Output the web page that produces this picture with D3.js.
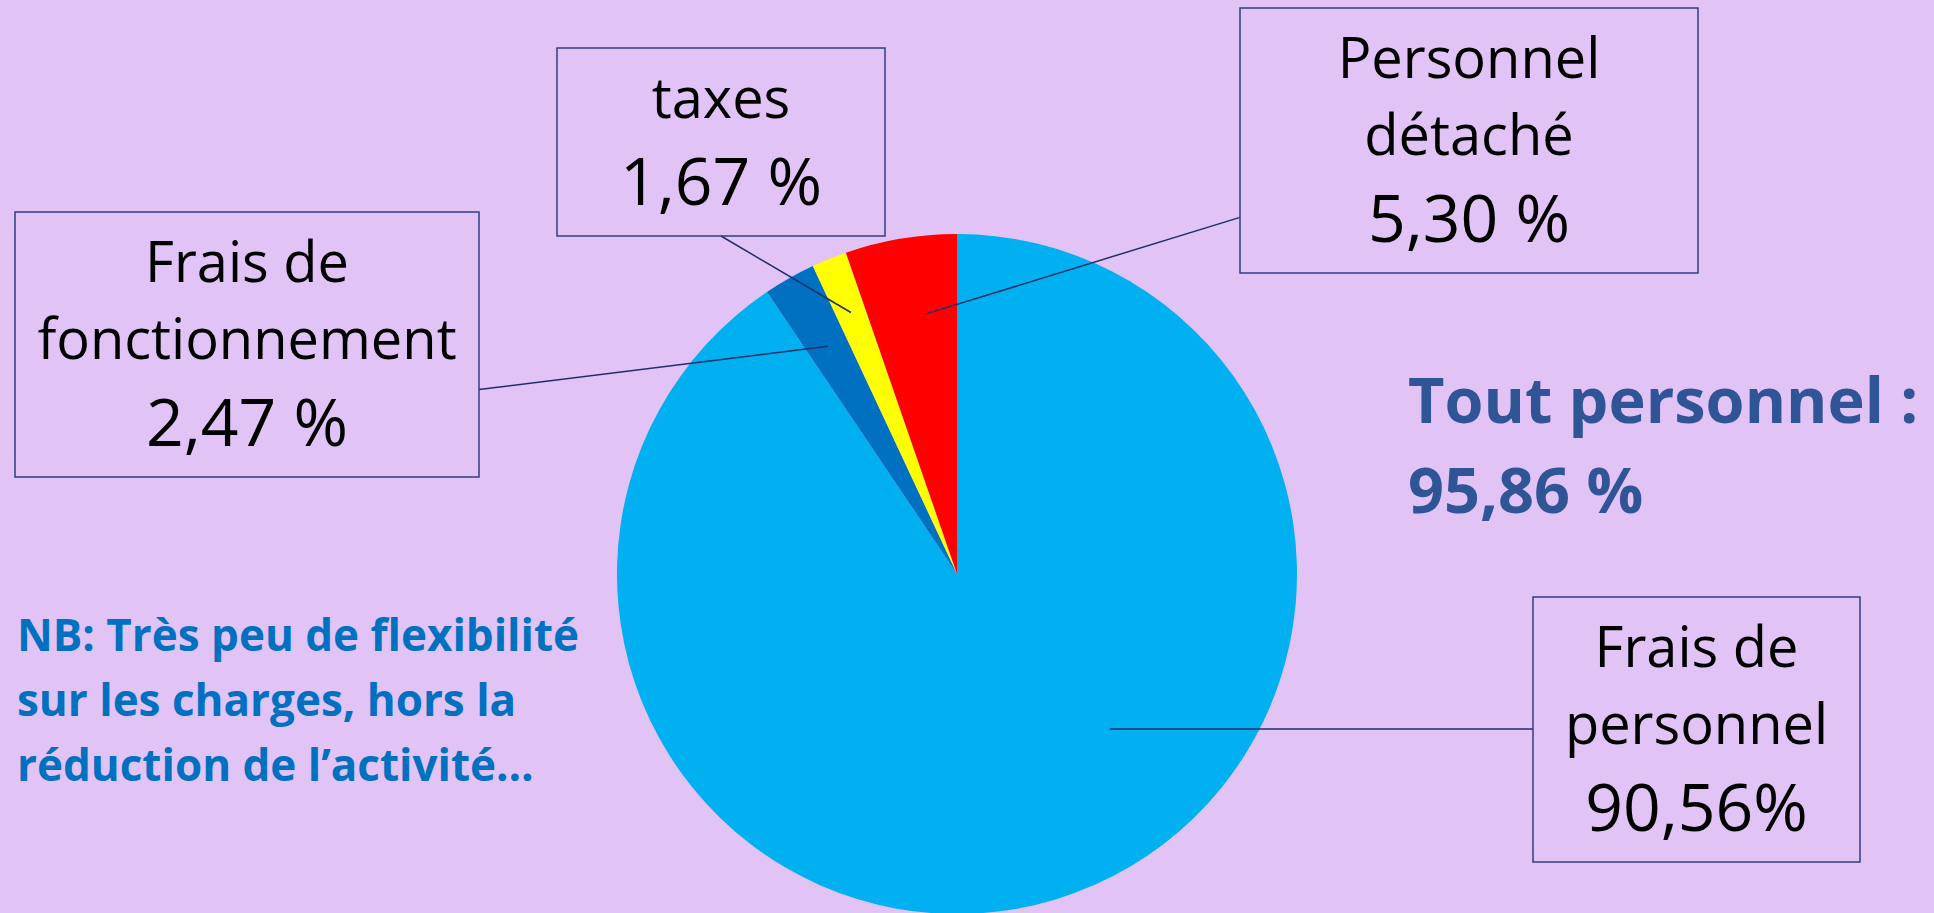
<!DOCTYPE html>
<html lang="fr">
<head>
    <meta charset="UTF-8">
    <title>Répartition des charges</title>
    <script src="https://d3js.org/d3.v7.min.js"></script>
    <style>
        html, body {
            margin: 0;
            padding: 0;
            background: #E1C3F5;
            overflow: hidden;
        }
        svg {
            display: block;
            font-family: 'Open Sans', sans-serif;
        }
        .box {
            fill: none;
            stroke: #2F3F80;
            stroke-width: 1.5;
        }
        .leader {
            stroke: #1F3068;
            stroke-width: 1.5;
        }
    </style>
</head>
<body>
    <div id="chart"></div>

    <script>
        // Data
        const categories = ["Frais de personnel", "Frais de fonctionnement", "taxes", "Personnel détaché"];
        const values = [90.56, 2.47, 1.67, 5.30];
        const valueLabels = ["90,56%", "2,47 %", "1,67 %", "5,30 %"];
        const labelLines = [["Frais de", "personnel"], ["Frais de", "fonctionnement"], ["taxes"], ["Personnel", "détaché"]];
        const colors = ["#00B0F0", "#0070C0", "#FFFF00", "#FF0000"];
        const totalTitle = "Tout personnel :";
        const noteLines = ["NB: Très peu de flexibilité", "sur les charges, hors la", "réduction de l’activité…"];

        const width = 1934, height = 913;
        const cx = 957, cy = 574, radius = 340;

        // label boxes (layout only)
        // angle: where the leader ends inside the slice (null = mid angle), r: fraction of radius
        // attach: which side of the box the leader leaves from, at: fraction along that side
        const boxes = [
            { x: 1533, y: 597, w: 327, angle: 135.4, r: 0.64, attach: "left", at: null },
            { x: 15, y: 212, w: 464, angle: null, r: 0.77, attach: "right", at: 0.67 },
            { x: 557, y: 48, w: 328, angle: null, r: 0.83, attach: "bottom", at: 0.5 },
            { x: 1240, y: 8, w: 458, angle: -7, r: 0.77, attach: "left", at: 0.79 }
        ];

        const svg = d3.select("#chart")
            .append("svg")
            .attr("width", width)
            .attr("height", height);

        const pie = d3.pie().sort(null).value(d => d);
        const arcs = pie(values);
        const arc = d3.arc().innerRadius(0).outerRadius(radius);

        const g = svg.append("g").attr("transform", `translate(${cx},${cy})`);

        g.selectAll("path")
            .data(arcs)
            .enter()
            .append("path")
            .attr("d", arc)
            .attr("fill", (d, i) => colors[i]);

        // label boxes + leader lines
        boxes.forEach((b, i) => {
            const lines = labelLines[i];
            const h = 70 + 77 * (lines.length - 1) + 87 + 31;
            const a = arcs[i];
            const ang = b.angle !== null ? b.angle * Math.PI / 180 : (a.startAngle + a.endAngle) / 2;
            const px = cx + Math.sin(ang) * radius * b.r;
            const py = cy - Math.cos(ang) * radius * b.r;

            let ex, ey;
            if (b.attach === "left") {
                ex = b.x;
                ey = b.at === null ? py : b.y + h * b.at;   // null = horizontal leader
            } else if (b.attach === "right") {
                ex = b.x + b.w;
                ey = b.y + h * b.at;
            } else {
                ex = b.x + b.w * b.at;
                ey = b.y + h;
            }

            svg.append("line")
                .attr("class", "leader")
                .attr("x1", ex).attr("y1", ey)
                .attr("x2", px).attr("y2", py);

            svg.append("rect")
                .attr("class", "box")
                .attr("x", b.x).attr("y", b.y)
                .attr("width", b.w).attr("height", h);

            const tx = b.x + b.w / 2;
            lines.forEach((t, j) => {
                svg.append("text")
                    .attr("x", tx)
                    .attr("y", b.y + 70 + 77 * j)
                    .attr("text-anchor", "middle")
                    .attr("font-size", 56)
                    .attr("fill", "#000")
                    .text(t);
            });
            svg.append("text")
                .attr("x", tx)
                .attr("y", b.y + 70 + 77 * (lines.length - 1) + 87)
                .attr("text-anchor", "middle")
                .attr("font-size", 66)
                .attr("fill", "#000")
                .text(valueLabels[i]);
        });

        // total of all personnel
        const total = (values[0] + values[3]).toFixed(2).replace(".", ",") + " %";
        svg.append("text")
            .attr("x", 1408).attr("y", 423)
            .attr("font-size", 63).attr("font-weight", "bold")
            .attr("fill", "#2F5597")
            .text(totalTitle);
        svg.append("text")
            .attr("x", 1408).attr("y", 513)
            .attr("font-size", 63).attr("font-weight", "bold")
            .attr("fill", "#2F5597")
            .text(total);

        // note
        noteLines.forEach((t, j) => {
            svg.append("text")
                .attr("x", 17).attr("y", 651 + 65 * j)
                .attr("font-size", 44).attr("font-weight", "bold")
                .attr("fill", "#0070C0")
                .text(t);
        });
    </script>
</body>
</html>
